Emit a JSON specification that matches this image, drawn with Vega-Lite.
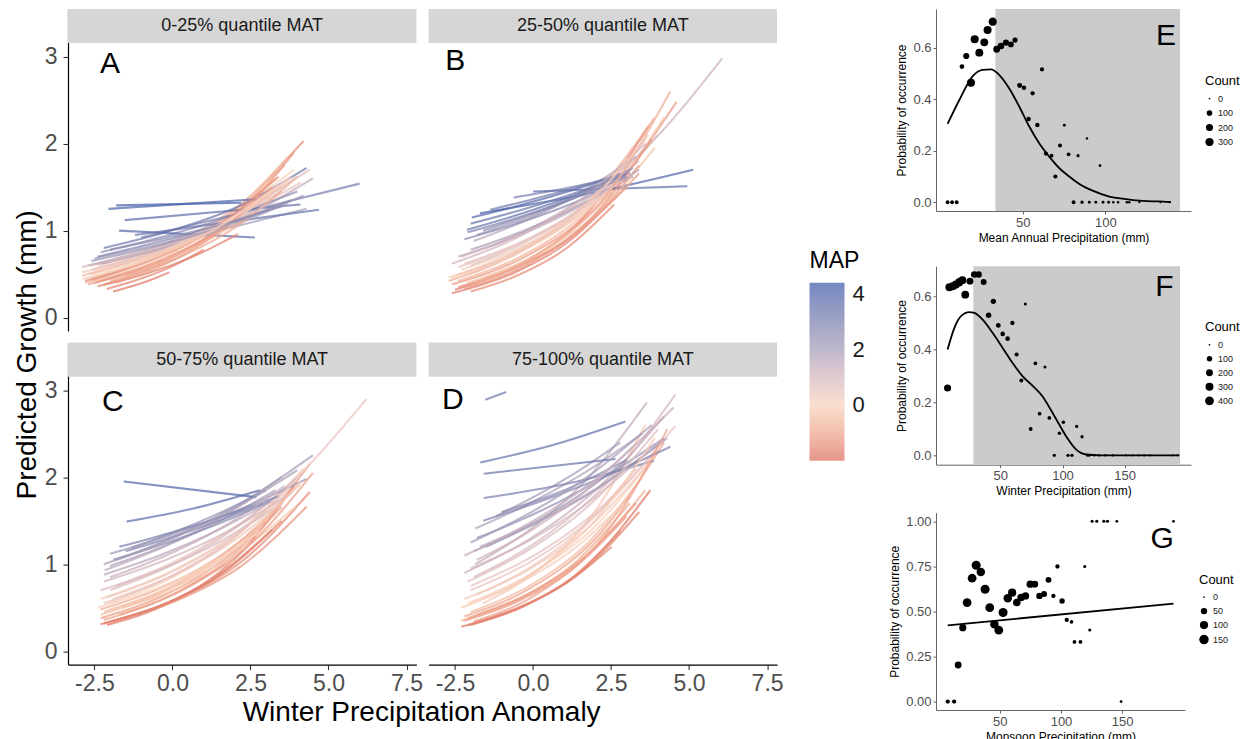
{
"$schema": "https://vega.github.io/schema/vega-lite/v6.json",
"padding": {"left": 14, "top": 9, "right": 2, "bottom": 2},
"config": {"view": {"stroke": null}, "font": "Liberation Sans", "axis": {"grid": false}},
"datasets": {
"panels": [
{"p":"A","lab":"0-25% quantile MAT","L":"A","lx":-2.0,"ly":2.91},
{"p":"B","lab":"25-50% quantile MAT","L":"B","lx":-2.49,"ly":2.95},
{"p":"C","lab":"50-75% quantile MAT","L":"C","lx":-1.91,"ly":2.87},
{"p":"D","lab":"75-100% quantile MAT","L":"D","lx":-2.57,"ly":2.89},
{"p":"A","g":"A1","m":-1.8,"x":-1.9,"y":0.30},{"p":"A","g":"A1","m":-1.8,"x":-1.3,"y":0.36},{"p":"A","g":"A1","m":-1.8,"x":-0.7,"y":0.433},{"p":"A","g":"A1","m":-1.8,"x":-0.1,"y":0.52},
{"p":"A","g":"A2","m":-1.5,"x":-2.8,"y":0.42},{"p":"A","g":"A2","m":-1.5,"x":-0.47,"y":0.71},{"p":"A","g":"A2","m":-1.5,"x":1.87,"y":1.20},{"p":"A","g":"A2","m":-1.5,"x":4.2,"y":2.03},
{"p":"A","g":"A3","m":-1.0,"x":-2.6,"y":0.45},{"p":"A","g":"A3","m":-1.0,"x":-0.53,"y":0.71},{"p":"A","g":"A3","m":-1.0,"x":1.53,"y":1.11},{"p":"A","g":"A3","m":-1.0,"x":3.6,"y":1.75},
{"p":"A","g":"A4","m":-0.5,"x":-2.9,"y":0.48},{"p":"A","g":"A4","m":-0.5,"x":-0.83,"y":0.717},{"p":"A","g":"A4","m":-0.5,"x":1.23,"y":1.071},{"p":"A","g":"A4","m":-0.5,"x":3.3,"y":1.6},
{"p":"A","g":"A5","m":0.0,"x":-2.5,"y":0.55},{"p":"A","g":"A5","m":0.0,"x":-0.37,"y":0.80},{"p":"A","g":"A5","m":0.0,"x":1.77,"y":1.167},{"p":"A","g":"A5","m":0.0,"x":3.9,"y":1.7},
{"p":"A","g":"A6","m":-1.2,"x":-2.2,"y":0.38},{"p":"A","g":"A6","m":-1.2,"x":-0.53,"y":0.594},{"p":"A","g":"A6","m":-1.2,"x":1.13,"y":0.928},{"p":"A","g":"A6","m":-1.2,"x":2.8,"y":1.45},
{"p":"A","g":"A7","m":0.3,"x":-2.7,"y":0.5},{"p":"A","g":"A7","m":0.3,"x":-0.63,"y":0.721},{"p":"A","g":"A7","m":0.3,"x":1.43,"y":1.04},{"p":"A","g":"A7","m":0.3,"x":3.5,"y":1.5},
{"p":"A","g":"A8","m":-0.8,"x":-1.5,"y":0.48},{"p":"A","g":"A8","m":-0.8,"x":0.0,"y":0.70},{"p":"A","g":"A8","m":-0.8,"x":1.5,"y":1.026},{"p":"A","g":"A8","m":-0.8,"x":3.0,"y":1.5},
{"p":"A","g":"A9","m":0.5,"x":-2.4,"y":0.6},{"p":"A","g":"A9","m":0.5,"x":-0.23,"y":0.824},{"p":"A","g":"A9","m":0.5,"x":1.93,"y":1.129},{"p":"A","g":"A9","m":0.5,"x":4.1,"y":1.55},
{"p":"A","g":"A10","m":-1.6,"x":-2.1,"y":0.33},{"p":"A","g":"A10","m":-1.6,"x":-1.07,"y":0.44},{"p":"A","g":"A10","m":-1.6,"x":-0.03,"y":0.586},{"p":"A","g":"A10","m":-1.6,"x":1.0,"y":0.78},
{"p":"A","g":"A11","m":0.8,"x":-2.6,"y":0.6},{"p":"A","g":"A11","m":0.8,"x":-0.27,"y":0.849},{"p":"A","g":"A11","m":0.8,"x":2.07,"y":1.201},{"p":"A","g":"A11","m":0.8,"x":4.4,"y":1.7},
{"p":"A","g":"A12","m":-0.3,"x":-2.0,"y":0.45},{"p":"A","g":"A12","m":-0.3,"x":-0.1,"y":0.721},{"p":"A","g":"A12","m":-0.3,"x":1.8,"y":1.155},{"p":"A","g":"A12","m":-0.3,"x":3.7,"y":1.85},
{"p":"A","g":"A13","m":1.5,"x":-2.7,"y":0.6},{"p":"A","g":"A13","m":1.5,"x":-0.3,"y":0.82},{"p":"A","g":"A13","m":1.5,"x":2.1,"y":1.12},{"p":"A","g":"A13","m":1.5,"x":4.5,"y":1.6},
{"p":"A","g":"A14","m":2.0,"x":-2.5,"y":0.68},{"p":"A","g":"A14","m":2.0,"x":-0.23,"y":0.86},{"p":"A","g":"A14","m":2.0,"x":2.03,"y":1.05},{"p":"A","g":"A14","m":2.0,"x":4.3,"y":1.25},
{"p":"A","g":"A15","m":2.5,"x":-2.3,"y":0.75},{"p":"A","g":"A15","m":2.5,"x":-0.2,"y":0.94},{"p":"A","g":"A15","m":2.5,"x":1.9,"y":1.17},{"p":"A","g":"A15","m":2.5,"x":4.0,"y":1.45},
{"p":"A","g":"A16","m":3.0,"x":-1.0,"y":0.92},{"p":"A","g":"A16","m":3.0,"x":6.0,"y":1.54},
{"p":"A","g":"A17","m":3.2,"x":-2.2,"y":0.8},{"p":"A","g":"A17","m":3.2,"x":-0.03,"y":1.0},{"p":"A","g":"A17","m":3.2,"x":2.13,"y":1.28},{"p":"A","g":"A17","m":3.2,"x":4.3,"y":1.72},
{"p":"A","g":"A18","m":3.6,"x":-1.53,"y":1.12},{"p":"A","g":"A18","m":3.6,"x":4.1,"y":1.30},
{"p":"A","g":"A19","m":3.8,"x":-1.71,"y":1.0},{"p":"A","g":"A19","m":3.8,"x":2.64,"y":0.92},
{"p":"A","g":"A20","m":4.0,"x":-2.05,"y":1.25},{"p":"A","g":"A20","m":4.0,"x":2.7,"y":1.36},
{"p":"A","g":"A21","m":4.2,"x":-1.8,"y":1.29},{"p":"A","g":"A21","m":4.2,"x":2.2,"y":1.32},
{"p":"A","g":"A22","m":2.8,"x":-2.4,"y":0.7},{"p":"A","g":"A22","m":2.8,"x":-0.33,"y":0.88},{"p":"A","g":"A22","m":2.8,"x":1.73,"y":1.08},{"p":"A","g":"A22","m":2.8,"x":3.8,"y":1.35},
{"p":"A","g":"A23","m":1.2,"x":-2.6,"y":0.55},{"p":"A","g":"A23","m":1.2,"x":-0.63,"y":0.75},{"p":"A","g":"A23","m":1.2,"x":1.33,"y":1.04},{"p":"A","g":"A23","m":1.2,"x":3.3,"y":1.5},
{"p":"A","g":"A24","m":3.4,"x":-1.2,"y":0.95},{"p":"A","g":"A24","m":3.4,"x":4.7,"y":1.24},
{"p":"A","g":"A25","m":-1.0,"x":-2.7,"y":0.38},{"p":"A","g":"A25","m":-1.0,"x":-0.8,"y":0.587},{"p":"A","g":"A25","m":-1.0,"x":1.1,"y":0.906},{"p":"A","g":"A25","m":-1.0,"x":3.0,"y":1.4},
{"p":"A","g":"A26","m":0.2,"x":-2.9,"y":0.52},{"p":"A","g":"A26","m":0.2,"x":-0.9,"y":0.72},{"p":"A","g":"A26","m":0.2,"x":1.1,"y":0.997},{"p":"A","g":"A26","m":0.2,"x":3.1,"y":1.38},
{"p":"A","g":"A27","m":-0.6,"x":-2.3,"y":0.42},{"p":"A","g":"A27","m":-0.6,"x":-0.6,"y":0.62},{"p":"A","g":"A27","m":-0.6,"x":1.1,"y":0.915},{"p":"A","g":"A27","m":-0.6,"x":2.8,"y":1.35},
{"p":"A","g":"A28","m":-1.3,"x":-2.5,"y":0.40},{"p":"A","g":"A28","m":-1.3,"x":-0.6,"y":0.622},{"p":"A","g":"A28","m":-1.3,"x":1.3,"y":0.966},{"p":"A","g":"A28","m":-1.3,"x":3.2,"y":1.5},
{"p":"A","g":"A29","m":0.6,"x":-2.2,"y":0.62},{"p":"A","g":"A29","m":0.6,"x":-0.3,"y":0.823},{"p":"A","g":"A29","m":0.6,"x":1.6,"y":1.092},{"p":"A","g":"A29","m":0.6,"x":3.5,"y":1.45},
{"p":"A","g":"A30","m":-0.2,"x":-2.8,"y":0.45},{"p":"A","g":"A30","m":-0.2,"x":-0.8,"y":0.66},{"p":"A","g":"A30","m":-0.2,"x":1.2,"y":0.968},{"p":"A","g":"A30","m":-0.2,"x":3.2,"y":1.42},
{"p":"A","g":"A31","m":1.8,"x":-2.3,"y":0.62},{"p":"A","g":"A31","m":1.8,"x":-0.3,"y":0.798},{"p":"A","g":"A31","m":1.8,"x":1.7,"y":1.027},{"p":"A","g":"A31","m":1.8,"x":3.7,"y":1.32},
{"p":"A","g":"A32","m":-1.7,"x":-2.4,"y":0.36},{"p":"A","g":"A32","m":-1.7,"x":-0.9,"y":0.499},{"p":"A","g":"A32","m":-1.7,"x":0.6,"y":0.692},{"p":"A","g":"A32","m":-1.7,"x":2.1,"y":0.96},
{"p":"A","g":"A33","m":-0.9,"x":-2.0,"y":0.42},{"p":"A","g":"A33","m":-0.9,"x":0.0,"y":0.659},{"p":"A","g":"A33","m":-0.9,"x":2.0,"y":1.033},{"p":"A","g":"A33","m":-0.9,"x":4.0,"y":1.62},
{"p":"A","g":"A34","m":1.0,"x":-2.9,"y":0.58},{"p":"A","g":"A34","m":1.0,"x":-0.9,"y":0.759},{"p":"A","g":"A34","m":1.0,"x":1.1,"y":0.994},{"p":"A","g":"A34","m":1.0,"x":3.1,"y":1.3},
{"p":"A","g":"A35","m":-0.4,"x":-2.6,"y":0.5},{"p":"A","g":"A35","m":-0.4,"x":-0.5,"y":0.734},{"p":"A","g":"A35","m":-0.4,"x":1.6,"y":1.076},{"p":"A","g":"A35","m":-0.4,"x":3.7,"y":1.58},
{"p":"A","g":"A36","m":-1.4,"x":-2.6,"y":0.43},{"p":"A","g":"A36","m":-1.4,"x":-0.6,"y":0.669},{"p":"A","g":"A36","m":-1.4,"x":1.4,"y":1.041},{"p":"A","g":"A36","m":-1.4,"x":3.4,"y":1.62},
{"p":"A","g":"A37","m":0.1,"x":-2.3,"y":0.53},{"p":"A","g":"A37","m":0.1,"x":-0.27,"y":0.769},{"p":"A","g":"A37","m":0.1,"x":1.77,"y":1.116},{"p":"A","g":"A37","m":0.1,"x":3.8,"y":1.62},
{"p":"A","g":"A38","m":-0.7,"x":-2.8,"y":0.40},{"p":"A","g":"A38","m":-0.7,"x":-1.0,"y":0.577},{"p":"A","g":"A38","m":-0.7,"x":0.8,"y":0.832},{"p":"A","g":"A38","m":-0.7,"x":2.6,"y":1.2},
{"p":"A","g":"A39","m":0.4,"x":-2.0,"y":0.58},{"p":"A","g":"A39","m":0.4,"x":0.0,"y":0.817},{"p":"A","g":"A39","m":0.4,"x":2.0,"y":1.15},{"p":"A","g":"A39","m":0.4,"x":4.0,"y":1.62},
{"p":"A","g":"A40","m":-1.1,"x":-1.8,"y":0.40},{"p":"A","g":"A40","m":-1.1,"x":0.1,"y":0.672},{"p":"A","g":"A40","m":-1.1,"x":2.0,"y":1.13},{"p":"A","g":"A40","m":-1.1,"x":3.9,"y":1.9},
{"p":"A","g":"A41","m":2.2,"x":-2.6,"y":0.65},{"p":"A","g":"A41","m":2.2,"x":-0.33,"y":0.839},{"p":"A","g":"A41","m":2.2,"x":1.93,"y":1.084},{"p":"A","g":"A41","m":2.2,"x":4.2,"y":1.4},
{"p":"A","g":"A42","m":2.6,"x":-2.0,"y":0.78},{"p":"A","g":"A42","m":2.6,"x":-0.17,"y":0.92},{"p":"A","g":"A42","m":2.6,"x":1.67,"y":1.08},{"p":"A","g":"A42","m":2.6,"x":3.5,"y":1.28},
{"p":"A","g":"A43","m":0.0,"x":-2.9,"y":0.44},{"p":"A","g":"A43","m":0.0,"x":-0.8,"y":0.665},{"p":"A","g":"A43","m":0.0,"x":1.3,"y":1.005},{"p":"A","g":"A43","m":0.0,"x":3.4,"y":1.52},
{"p":"B","g":"B1","m":-1.8,"x":-2.5,"y":0.32},{"p":"B","g":"B1","m":-1.8,"x":-0.43,"y":0.608},{"p":"B","g":"B1","m":-1.8,"x":1.63,"y":1.157},{"p":"B","g":"B1","m":-1.8,"x":3.7,"y":2.2},
{"p":"B","g":"B2","m":-1.2,"x":-2.6,"y":0.38},{"p":"B","g":"B2","m":-1.2,"x":-0.2,"y":0.71},{"p":"B","g":"B2","m":-1.2,"x":2.2,"y":1.326},{"p":"B","g":"B2","m":-1.2,"x":4.6,"y":2.48},
{"p":"B","g":"B3","m":-0.6,"x":-2.4,"y":0.42},{"p":"B","g":"B3","m":-0.6,"x":-0.43,"y":0.695},{"p":"B","g":"B3","m":-0.6,"x":1.53,"y":1.149},{"p":"B","g":"B3","m":-0.6,"x":3.5,"y":1.9},
{"p":"B","g":"B4","m":0.0,"x":-2.2,"y":0.5},{"p":"B","g":"B4","m":0.0,"x":-0.13,"y":0.807},{"p":"B","g":"B4","m":0.0,"x":1.93,"y":1.301},{"p":"B","g":"B4","m":0.0,"x":4.0,"y":2.1},
{"p":"B","g":"B5","m":-1.5,"x":-2.0,"y":0.3},{"p":"B","g":"B5","m":-1.5,"x":-0.47,"y":0.489},{"p":"B","g":"B5","m":-1.5,"x":1.07,"y":0.797},{"p":"B","g":"B5","m":-1.5,"x":2.6,"y":1.3},
{"p":"B","g":"B6","m":0.4,"x":-2.5,"y":0.48},{"p":"B","g":"B6","m":0.4,"x":-0.6,"y":0.739},{"p":"B","g":"B6","m":0.4,"x":1.3,"y":1.137},{"p":"B","g":"B6","m":0.4,"x":3.2,"y":1.75},
{"p":"B","g":"B7","m":-0.9,"x":-2.7,"y":0.42},{"p":"B","g":"B7","m":-0.9,"x":-0.5,"y":0.74},{"p":"B","g":"B7","m":-0.9,"x":1.7,"y":1.305},{"p":"B","g":"B7","m":-0.9,"x":3.9,"y":2.3},
{"p":"B","g":"B8","m":0.8,"x":-2.0,"y":0.6},{"p":"B","g":"B8","m":0.8,"x":-0.2,"y":0.873},{"p":"B","g":"B8","m":0.8,"x":1.6,"y":1.271},{"p":"B","g":"B8","m":0.8,"x":3.4,"y":1.85},
{"p":"B","g":"B9","m":-0.3,"x":-1.6,"y":0.45},{"p":"B","g":"B9","m":-0.3,"x":0.33,"y":0.775},{"p":"B","g":"B9","m":-0.3,"x":2.27,"y":1.336},{"p":"B","g":"B9","m":-0.3,"x":4.2,"y":2.3},
{"p":"B","g":"B10","m":0.2,"x":-2.3,"y":0.55},{"p":"B","g":"B10","m":0.2,"x":-0.53,"y":0.785},{"p":"B","g":"B10","m":0.2,"x":1.23,"y":1.121},{"p":"B","g":"B10","m":0.2,"x":3.0,"y":1.6},
{"p":"B","g":"B11","m":1.6,"x":-1.9,"y":0.88},{"p":"B","g":"B11","m":1.6,"x":-0.17,"y":1.127},{"p":"B","g":"B11","m":1.6,"x":1.57,"y":1.444},{"p":"B","g":"B11","m":1.6,"x":3.3,"y":1.85},
{"p":"B","g":"B12","m":1.2,"x":-1.5,"y":0.8},{"p":"B","g":"B12","m":1.2,"x":1.02,"y":1.24},{"p":"B","g":"B12","m":1.2,"x":3.54,"y":1.922},{"p":"B","g":"B12","m":1.2,"x":6.06,"y":2.98},
{"p":"B","g":"B13","m":2.2,"x":-1.8,"y":0.95},{"p":"B","g":"B13","m":2.2,"x":-0.17,"y":1.153},{"p":"B","g":"B13","m":2.2,"x":1.47,"y":1.4},{"p":"B","g":"B13","m":2.2,"x":3.1,"y":1.7},
{"p":"B","g":"B14","m":3.5,"x":-2.12,"y":1.01},{"p":"B","g":"B14","m":3.5,"x":-0.41,"y":1.19},{"p":"B","g":"B14","m":3.5,"x":1.29,"y":1.4},{"p":"B","g":"B14","m":3.5,"x":3.0,"y":1.65},
{"p":"B","g":"B15","m":3.8,"x":-1.96,"y":1.15},{"p":"B","g":"B15","m":3.8,"x":-0.27,"y":1.305},{"p":"B","g":"B15","m":3.8,"x":1.41,"y":1.481},{"p":"B","g":"B15","m":3.8,"x":3.1,"y":1.68},
{"p":"B","g":"B16","m":3.2,"x":-1.37,"y":1.24},{"p":"B","g":"B16","m":3.2,"x":0.05,"y":1.366},{"p":"B","g":"B16","m":3.2,"x":1.48,"y":1.507},{"p":"B","g":"B16","m":3.2,"x":2.9,"y":1.66},
{"p":"B","g":"B17","m":3.0,"x":-0.62,"y":1.38},{"p":"B","g":"B17","m":3.0,"x":1.09,"y":1.49},{"p":"B","g":"B17","m":3.0,"x":2.8,"y":1.62},
{"p":"B","g":"B18","m":4.0,"x":-1.7,"y":1.2},{"p":"B","g":"B18","m":4.0,"x":1.72,"y":1.42},{"p":"B","g":"B18","m":4.0,"x":5.13,"y":1.7},
{"p":"B","g":"B19","m":3.6,"x":0.0,"y":1.45},{"p":"B","g":"B19","m":3.6,"x":4.94,"y":1.51},
{"p":"B","g":"B20","m":2.6,"x":-2.2,"y":0.9},{"p":"B","g":"B20","m":2.6,"x":-0.4,"y":1.095},{"p":"B","g":"B20","m":2.6,"x":1.4,"y":1.332},{"p":"B","g":"B20","m":2.6,"x":3.2,"y":1.62},
{"p":"B","g":"B21","m":-1.4,"x":-2.4,"y":0.35},{"p":"B","g":"B21","m":-1.4,"x":-0.6,"y":0.568},{"p":"B","g":"B21","m":-1.4,"x":1.2,"y":0.923},{"p":"B","g":"B21","m":-1.4,"x":3.0,"y":1.5},
{"p":"B","g":"B22","m":1.0,"x":-2.3,"y":0.7},{"p":"B","g":"B22","m":1.0,"x":-0.4,"y":0.959},{"p":"B","g":"B22","m":1.0,"x":1.5,"y":1.313},{"p":"B","g":"B22","m":1.0,"x":3.4,"y":1.8},
{"p":"B","g":"B23","m":-1.7,"x":-2.6,"y":0.28},{"p":"B","g":"B23","m":-1.7,"x":-0.6,"y":0.516},{"p":"B","g":"B23","m":-1.7,"x":1.4,"y":0.95},{"p":"B","g":"B23","m":-1.7,"x":3.4,"y":1.75},
{"p":"B","g":"B24","m":0.6,"x":-2.4,"y":0.58},{"p":"B","g":"B24","m":0.6,"x":-0.5,"y":0.843},{"p":"B","g":"B24","m":0.6,"x":1.4,"y":1.225},{"p":"B","g":"B24","m":0.6,"x":3.3,"y":1.78},
{"p":"B","g":"B25","m":1.9,"x":-2.0,"y":0.78},{"p":"B","g":"B25","m":1.9,"x":-0.2,"y":1.012},{"p":"B","g":"B25","m":1.9,"x":1.6,"y":1.311},{"p":"B","g":"B25","m":1.9,"x":3.4,"y":1.7},
{"p":"B","g":"B26","m":-0.4,"x":-2.1,"y":0.4},{"p":"B","g":"B26","m":-0.4,"x":-0.1,"y":0.678},{"p":"B","g":"B26","m":-0.4,"x":1.9,"y":1.15},{"p":"B","g":"B26","m":-0.4,"x":3.9,"y":1.95},
{"p":"B","g":"B27","m":-1.0,"x":-2.3,"y":0.36},{"p":"B","g":"B27","m":-1.0,"x":-0.4,"y":0.599},{"p":"B","g":"B27","m":-1.0,"x":1.5,"y":0.998},{"p":"B","g":"B27","m":-1.0,"x":3.4,"y":1.66},
{"p":"B","g":"B28","m":0.0,"x":-2.6,"y":0.45},{"p":"B","g":"B28","m":0.0,"x":-0.6,"y":0.721},{"p":"B","g":"B28","m":0.0,"x":1.4,"y":1.155},{"p":"B","g":"B28","m":0.0,"x":3.4,"y":1.85},
{"p":"B","g":"B29","m":1.4,"x":-2.4,"y":0.7},{"p":"B","g":"B29","m":1.4,"x":-0.5,"y":0.937},{"p":"B","g":"B29","m":1.4,"x":1.4,"y":1.255},{"p":"B","g":"B29","m":1.4,"x":3.3,"y":1.68},
{"p":"B","g":"B30","m":3.3,"x":-2.0,"y":1.08},{"p":"B","g":"B30","m":3.3,"x":-0.3,"y":1.246},{"p":"B","g":"B30","m":3.3,"x":1.4,"y":1.438},{"p":"B","g":"B30","m":3.3,"x":3.1,"y":1.66},
{"p":"B","g":"B31","m":-1.3,"x":-2.2,"y":0.33},{"p":"B","g":"B31","m":-1.3,"x":-0.2,"y":0.607},{"p":"B","g":"B31","m":-1.3,"x":1.8,"y":1.115},{"p":"B","g":"B31","m":-1.3,"x":3.8,"y":2.05},
{"p":"B","g":"B32","m":-0.2,"x":-2.7,"y":0.46},{"p":"B","g":"B32","m":-0.2,"x":-0.6,"y":0.757},{"p":"B","g":"B32","m":-0.2,"x":1.5,"y":1.246},{"p":"B","g":"B32","m":-0.2,"x":3.6,"y":2.05},
{"p":"B","g":"B33","m":0.5,"x":-2.2,"y":0.62},{"p":"B","g":"B33","m":0.5,"x":-0.43,"y":0.859},{"p":"B","g":"B33","m":0.5,"x":1.33,"y":1.191},{"p":"B","g":"B33","m":0.5,"x":3.1,"y":1.65},
{"p":"B","g":"B34","m":1.1,"x":-2.6,"y":0.62},{"p":"B","g":"B34","m":1.1,"x":-0.53,"y":0.916},{"p":"B","g":"B34","m":1.1,"x":1.53,"y":1.353},{"p":"B","g":"B34","m":1.1,"x":3.6,"y":2.0},
{"p":"B","g":"B35","m":2.4,"x":-1.6,"y":1.0},{"p":"B","g":"B35","m":2.4,"x":0.0,"y":1.198},{"p":"B","g":"B35","m":2.4,"x":1.6,"y":1.436},{"p":"B","g":"B35","m":2.4,"x":3.2,"y":1.72},
{"p":"B","g":"B36","m":2.9,"x":-2.1,"y":0.98},{"p":"B","g":"B36","m":2.9,"x":-0.4,"y":1.158},{"p":"B","g":"B36","m":2.9,"x":1.3,"y":1.37},{"p":"B","g":"B36","m":2.9,"x":3.0,"y":1.62},
{"p":"B","g":"B37","m":-0.8,"x":-2.0,"y":0.38},{"p":"B","g":"B37","m":-0.8,"x":0.13,"y":0.721},{"p":"B","g":"B37","m":-0.8,"x":2.27,"y":1.37},{"p":"B","g":"B37","m":-0.8,"x":4.4,"y":2.6},
{"p":"B","g":"B38","m":0.3,"x":-1.8,"y":0.55},{"p":"B","g":"B38","m":0.3,"x":0.03,"y":0.86},{"p":"B","g":"B38","m":0.3,"x":1.87,"y":1.344},{"p":"B","g":"B38","m":0.3,"x":3.7,"y":2.1},
{"p":"C","g":"C1","m":-1.8,"x":-2.1,"y":0.3},{"p":"C","g":"C1","m":-1.8,"x":-0.1,"y":0.555},{"p":"C","g":"C1","m":-1.8,"x":1.9,"y":1.027},{"p":"C","g":"C1","m":-1.8,"x":3.9,"y":1.9},
{"p":"C","g":"C2","m":-1.2,"x":-2.3,"y":0.38},{"p":"C","g":"C2","m":-1.2,"x":-0.07,"y":0.677},{"p":"C","g":"C2","m":-1.2,"x":2.17,"y":1.207},{"p":"C","g":"C2","m":-1.2,"x":4.4,"y":2.15},
{"p":"C","g":"C3","m":-0.6,"x":-2.2,"y":0.45},{"p":"C","g":"C3","m":-0.6,"x":-0.27,"y":0.708},{"p":"C","g":"C3","m":-0.6,"x":1.67,"y":1.113},{"p":"C","g":"C3","m":-0.6,"x":3.6,"y":1.75},
{"p":"C","g":"C4","m":0.0,"x":-2.0,"y":0.55},{"p":"C","g":"C4","m":0.0,"x":0.07,"y":0.86},{"p":"C","g":"C4","m":0.0,"x":2.13,"y":1.344},{"p":"C","g":"C4","m":0.0,"x":4.2,"y":2.1},
{"p":"C","g":"C5","m":-1.5,"x":-1.9,"y":0.35},{"p":"C","g":"C5","m":-1.5,"x":0.2,"y":0.608},{"p":"C","g":"C5","m":-1.5,"x":2.3,"y":1.054},{"p":"C","g":"C5","m":-1.5,"x":4.4,"y":1.83},
{"p":"C","g":"C6","m":0.4,"x":-2.1,"y":0.62},{"p":"C","g":"C6","m":0.4,"x":-0.27,"y":0.871},{"p":"C","g":"C6","m":0.4,"x":1.57,"y":1.224},{"p":"C","g":"C6","m":0.4,"x":3.4,"y":1.72},
{"p":"C","g":"C7","m":0.5,"x":-1.8,"y":0.75},{"p":"C","g":"C7","m":0.5,"x":0.87,"y":1.178},{"p":"C","g":"C7","m":0.5,"x":3.55,"y":1.849},{"p":"C","g":"C7","m":0.5,"x":6.22,"y":2.9},
{"p":"C","g":"C8","m":-0.9,"x":-2.3,"y":0.48},{"p":"C","g":"C8","m":-0.9,"x":-0.53,"y":0.702},{"p":"C","g":"C8","m":-0.9,"x":1.23,"y":1.026},{"p":"C","g":"C8","m":-0.9,"x":3.0,"y":1.5},
{"p":"C","g":"C9","m":0.8,"x":-2.0,"y":0.7},{"p":"C","g":"C9","m":0.8,"x":0.0,"y":0.993},{"p":"C","g":"C9","m":0.8,"x":2.0,"y":1.41},{"p":"C","g":"C9","m":0.8,"x":4.0,"y":2.0},
{"p":"C","g":"C10","m":-0.3,"x":-1.6,"y":0.5},{"p":"C","g":"C10","m":-0.3,"x":-0.4,"y":0.64},{"p":"C","g":"C10","m":-0.3,"x":0.8,"y":0.82},{"p":"C","g":"C10","m":-0.3,"x":2.0,"y":1.05},
{"p":"C","g":"C11","m":1.5,"x":-2.17,"y":0.93},{"p":"C","g":"C11","m":1.5,"x":-0.28,"y":1.2},{"p":"C","g":"C11","m":1.5,"x":1.61,"y":1.549},{"p":"C","g":"C11","m":1.5,"x":3.5,"y":2.0},
{"p":"C","g":"C12","m":2.0,"x":-1.8,"y":1.05},{"p":"C","g":"C12","m":2.0,"x":0.3,"y":1.353},{"p":"C","g":"C12","m":2.0,"x":2.4,"y":1.745},{"p":"C","g":"C12","m":2.0,"x":4.5,"y":2.25},
{"p":"C","g":"C13","m":2.4,"x":-1.3,"y":1.19},{"p":"C","g":"C13","m":2.4,"x":0.13,"y":1.379},{"p":"C","g":"C13","m":2.4,"x":1.57,"y":1.598},{"p":"C","g":"C13","m":2.4,"x":3.0,"y":1.85},
{"p":"C","g":"C14","m":1.8,"x":-2.0,"y":0.98},{"p":"C","g":"C14","m":1.8,"x":-0.23,"y":1.211},{"p":"C","g":"C14","m":1.8,"x":1.53,"y":1.496},{"p":"C","g":"C14","m":1.8,"x":3.3,"y":1.85},
{"p":"C","g":"C15","m":2.8,"x":-1.5,"y":1.15},{"p":"C","g":"C15","m":2.8,"x":-0.03,"y":1.31},{"p":"C","g":"C15","m":2.8,"x":1.43,"y":1.493},{"p":"C","g":"C15","m":2.8,"x":2.9,"y":1.7},
{"p":"C","g":"C16","m":4.0,"x":-1.56,"y":1.95},{"p":"C","g":"C16","m":4.0,"x":2.69,"y":1.77},
{"p":"C","g":"C17","m":3.7,"x":-1.47,"y":1.49},{"p":"C","g":"C17","m":3.7,"x":0.67,"y":1.64},{"p":"C","g":"C17","m":3.7,"x":2.8,"y":1.85},
{"p":"C","g":"C18","m":-1.0,"x":-2.2,"y":0.36},{"p":"C","g":"C18","m":-1.0,"x":-0.3,"y":0.599},{"p":"C","g":"C18","m":-1.0,"x":1.6,"y":0.998},{"p":"C","g":"C18","m":-1.0,"x":3.5,"y":1.66},
{"p":"C","g":"C19","m":1.1,"x":-2.2,"y":0.8},{"p":"C","g":"C19","m":1.1,"x":-0.2,"y":1.052},{"p":"C","g":"C19","m":1.1,"x":1.8,"y":1.383},{"p":"C","g":"C19","m":1.1,"x":3.8,"y":1.82},
{"p":"C","g":"C20","m":0.2,"x":-2.3,"y":0.6},{"p":"C","g":"C20","m":0.2,"x":-0.3,"y":0.873},{"p":"C","g":"C20","m":0.2,"x":1.7,"y":1.271},{"p":"C","g":"C20","m":0.2,"x":3.7,"y":1.85},
{"p":"C","g":"C21","m":-1.6,"x":-2.2,"y":0.32},{"p":"C","g":"C21","m":-1.6,"x":-0.3,"y":0.535},{"p":"C","g":"C21","m":-1.6,"x":1.6,"y":0.896},{"p":"C","g":"C21","m":-1.6,"x":3.5,"y":1.5},
{"p":"C","g":"C22","m":2.2,"x":-2.0,"y":1.12},{"p":"C","g":"C22","m":2.2,"x":0.1,"y":1.354},{"p":"C","g":"C22","m":2.2,"x":2.2,"y":1.637},{"p":"C","g":"C22","m":2.2,"x":4.3,"y":1.98},
{"p":"C","g":"C23","m":0.9,"x":-2.3,"y":0.7},{"p":"C","g":"C23","m":0.9,"x":-0.4,"y":0.937},{"p":"C","g":"C23","m":0.9,"x":1.5,"y":1.255},{"p":"C","g":"C23","m":0.9,"x":3.4,"y":1.68},
{"p":"C","g":"C24","m":-0.2,"x":-2.0,"y":0.48},{"p":"C","g":"C24","m":-0.2,"x":0.0,"y":0.729},{"p":"C","g":"C24","m":-0.2,"x":2.0,"y":1.106},{"p":"C","g":"C24","m":-0.2,"x":4.0,"y":1.68},
{"p":"C","g":"C25","m":-1.3,"x":-2.0,"y":0.34},{"p":"C","g":"C25","m":-1.3,"x":0.1,"y":0.577},{"p":"C","g":"C25","m":-1.3,"x":2.2,"y":0.978},{"p":"C","g":"C25","m":-1.3,"x":4.3,"y":1.66},
{"p":"C","g":"C26","m":0.3,"x":-1.9,"y":0.6},{"p":"C","g":"C26","m":0.3,"x":0.1,"y":0.884},{"p":"C","g":"C26","m":0.3,"x":2.1,"y":1.303},{"p":"C","g":"C26","m":0.3,"x":4.1,"y":1.92},
{"p":"C","g":"C27","m":1.6,"x":-2.2,"y":0.88},{"p":"C","g":"C27","m":1.6,"x":-0.4,"y":1.103},{"p":"C","g":"C27","m":1.6,"x":1.4,"y":1.382},{"p":"C","g":"C27","m":1.6,"x":3.2,"y":1.73},
{"p":"C","g":"C28","m":3.0,"x":-1.7,"y":1.2},{"p":"C","g":"C28","m":3.0,"x":0.0,"y":1.368},{"p":"C","g":"C28","m":3.0,"x":1.7,"y":1.56},{"p":"C","g":"C28","m":3.0,"x":3.4,"y":1.78},
{"p":"C","g":"C29","m":-1.7,"x":-2.3,"y":0.31},{"p":"C","g":"C29","m":-1.7,"x":-0.47,"y":0.512},{"p":"C","g":"C29","m":-1.7,"x":1.37,"y":0.847},{"p":"C","g":"C29","m":-1.7,"x":3.2,"y":1.4},
{"p":"C","g":"C30","m":-0.4,"x":-2.3,"y":0.42},{"p":"C","g":"C30","m":-0.4,"x":-0.17,"y":0.701},{"p":"C","g":"C30","m":-0.4,"x":1.97,"y":1.168},{"p":"C","g":"C30","m":-0.4,"x":4.1,"y":1.95},
{"p":"C","g":"C31","m":0.6,"x":-2.2,"y":0.55},{"p":"C","g":"C31","m":0.6,"x":-0.17,"y":0.839},{"p":"C","g":"C31","m":0.6,"x":1.87,"y":1.279},{"p":"C","g":"C31","m":0.6,"x":3.9,"y":1.95},
{"p":"C","g":"C32","m":1.3,"x":-2.0,"y":0.85},{"p":"C","g":"C32","m":1.3,"x":-0.13,"y":1.111},{"p":"C","g":"C32","m":1.3,"x":1.73,"y":1.453},{"p":"C","g":"C32","m":1.3,"x":3.6,"y":1.9},
{"p":"C","g":"C33","m":2.6,"x":-1.9,"y":1.05},{"p":"C","g":"C33","m":2.6,"x":-0.23,"y":1.238},{"p":"C","g":"C33","m":2.6,"x":1.43,"y":1.459},{"p":"C","g":"C33","m":2.6,"x":3.1,"y":1.72},
{"p":"C","g":"C34","m":1.9,"x":-2.2,"y":1.0},{"p":"C","g":"C34","m":1.9,"x":-0.13,"y":1.276},{"p":"C","g":"C34","m":1.9,"x":1.93,"y":1.629},{"p":"C","g":"C34","m":1.9,"x":4.0,"y":2.08},
{"p":"C","g":"C35","m":-1.1,"x":-1.7,"y":0.42},{"p":"C","g":"C35","m":-1.1,"x":0.37,"y":0.712},{"p":"C","g":"C35","m":-1.1,"x":2.43,"y":1.208},{"p":"C","g":"C35","m":-1.1,"x":4.5,"y":2.05},
{"p":"C","g":"C36","m":0.0,"x":-2.4,"y":0.5},{"p":"C","g":"C36","m":0.0,"x":-0.6,"y":0.708},{"p":"C","g":"C36","m":0.0,"x":1.2,"y":1.003},{"p":"C","g":"C36","m":0.0,"x":3.0,"y":1.42},
{"p":"D","g":"D1","m":-1.8,"x":-2.3,"y":0.28},{"p":"D","g":"D1","m":-1.8,"x":-0.28,"y":0.526},{"p":"D","g":"D1","m":-1.8,"x":1.74,"y":0.986},{"p":"D","g":"D1","m":-1.8,"x":3.76,"y":1.85},
{"p":"D","g":"D2","m":-1.4,"x":-1.9,"y":0.33},{"p":"D","g":"D2","m":-1.4,"x":-0.42,"y":0.507},{"p":"D","g":"D2","m":-1.4,"x":1.05,"y":0.78},{"p":"D","g":"D2","m":-1.4,"x":2.53,"y":1.2},
{"p":"D","g":"D3","m":-1.0,"x":-2.2,"y":0.4},{"p":"D","g":"D3","m":-1.0,"x":-0.07,"y":0.727},{"p":"D","g":"D3","m":-1.0,"x":2.07,"y":1.321},{"p":"D","g":"D3","m":-1.0,"x":4.2,"y":2.4},
{"p":"D","g":"D4","m":-0.5,"x":-2.0,"y":0.45},{"p":"D","g":"D4","m":-0.5,"x":-0.17,"y":0.74},{"p":"D","g":"D4","m":-0.5,"x":1.67,"y":1.216},{"p":"D","g":"D4","m":-0.5,"x":3.5,"y":2.0},
{"p":"D","g":"D5","m":0.0,"x":-2.1,"y":0.55},{"p":"D","g":"D5","m":0.0,"x":-0.07,"y":0.886},{"p":"D","g":"D5","m":0.0,"x":1.97,"y":1.427},{"p":"D","g":"D5","m":0.0,"x":4.0,"y":2.3},
{"p":"D","g":"D6","m":0.3,"x":-1.8,"y":0.65},{"p":"D","g":"D6","m":0.3,"x":-0.1,"y":0.961},{"p":"D","g":"D6","m":0.3,"x":1.6,"y":1.42},{"p":"D","g":"D6","m":0.3,"x":3.3,"y":2.1},
{"p":"D","g":"D7","m":-1.2,"x":-2.2,"y":0.35},{"p":"D","g":"D7","m":-1.2,"x":-0.47,"y":0.575},{"p":"D","g":"D7","m":-1.2,"x":1.27,"y":0.944},{"p":"D","g":"D7","m":-1.2,"x":3.0,"y":1.55},
{"p":"D","g":"D8","m":0.6,"x":-2.0,"y":0.75},{"p":"D","g":"D8","m":0.6,"x":0.19,"y":1.133},{"p":"D","g":"D8","m":0.6,"x":2.37,"y":1.714},{"p":"D","g":"D8","m":0.6,"x":4.56,"y":2.59},
{"p":"D","g":"D9","m":-0.3,"x":-1.6,"y":0.55},{"p":"D","g":"D9","m":-0.3,"x":0.13,"y":0.924},{"p":"D","g":"D9","m":-0.3,"x":1.87,"y":1.55},{"p":"D","g":"D9","m":-0.3,"x":3.6,"y":2.6},
{"p":"D","g":"D10","m":0.9,"x":-1.9,"y":0.85},{"p":"D","g":"D10","m":0.9,"x":0.25,"y":1.287},{"p":"D","g":"D10","m":0.9,"x":2.41,"y":1.948},{"p":"D","g":"D10","m":0.9,"x":4.56,"y":2.95},
{"p":"D","g":"D11","m":1.5,"x":-1.85,"y":1.0},{"p":"D","g":"D11","m":1.5,"x":-0.02,"y":1.419},{"p":"D","g":"D11","m":1.5,"x":1.82,"y":2.015},{"p":"D","g":"D11","m":1.5,"x":3.65,"y":2.86},
{"p":"D","g":"D12","m":1.8,"x":-1.85,"y":1.41},{"p":"D","g":"D12","m":1.8,"x":-0.07,"y":1.706},{"p":"D","g":"D12","m":1.8,"x":1.72,"y":2.066},{"p":"D","g":"D12","m":1.8,"x":3.5,"y":2.5},
{"p":"D","g":"D13","m":2.2,"x":-1.5,"y":1.2},{"p":"D","g":"D13","m":2.2,"x":0.0,"y":1.469},{"p":"D","g":"D13","m":2.2,"x":1.5,"y":1.797},{"p":"D","g":"D13","m":2.2,"x":3.0,"y":2.2},
{"p":"D","g":"D14","m":2.0,"x":-1.2,"y":1.55},{"p":"D","g":"D14","m":2.0,"x":0.13,"y":1.793},{"p":"D","g":"D14","m":2.0,"x":1.47,"y":2.075},{"p":"D","g":"D14","m":2.0,"x":2.8,"y":2.4},
{"p":"D","g":"D15","m":1.3,"x":-2.2,"y":0.9},{"p":"D","g":"D15","m":1.3,"x":-0.07,"y":1.298},{"p":"D","g":"D15","m":1.3,"x":2.07,"y":1.872},{"p":"D","g":"D15","m":1.3,"x":4.2,"y":2.7},
{"p":"D","g":"D16","m":3.2,"x":-1.53,"y":2.89},{"p":"D","g":"D16","m":3.2,"x":-0.86,"y":2.98},
{"p":"D","g":"D17","m":3.5,"x":-1.69,"y":2.17},{"p":"D","g":"D17","m":3.5,"x":0.64,"y":2.37},{"p":"D","g":"D17","m":3.5,"x":2.96,"y":2.64},
{"p":"D","g":"D18","m":3.4,"x":-1.58,"y":2.04},{"p":"D","g":"D18","m":3.4,"x":2.64,"y":2.21},
{"p":"D","g":"D19","m":3.0,"x":-1.58,"y":1.76},{"p":"D","g":"D19","m":3.0,"x":1.15,"y":1.93},{"p":"D","g":"D19","m":3.0,"x":3.87,"y":2.19},
{"p":"D","g":"D20","m":2.6,"x":-1.0,"y":1.6},{"p":"D","g":"D20","m":2.6,"x":1.0,"y":1.85},{"p":"D","g":"D20","m":2.6,"x":3.0,"y":2.2},
{"p":"D","g":"D21","m":-0.8,"x":-2.3,"y":0.35},{"p":"D","g":"D21","m":-0.8,"x":-0.5,"y":0.593},{"p":"D","g":"D21","m":-0.8,"x":1.3,"y":1.004},{"p":"D","g":"D21","m":-0.8,"x":3.1,"y":1.7},
{"p":"D","g":"D22","m":1.0,"x":-2.0,"y":0.95},{"p":"D","g":"D22","m":1.0,"x":-0.2,"y":1.257},{"p":"D","g":"D22","m":1.0,"x":1.6,"y":1.663},{"p":"D","g":"D22","m":1.0,"x":3.4,"y":2.2},
{"p":"D","g":"D23","m":1.6,"x":-1.7,"y":1.2},{"p":"D","g":"D23","m":1.6,"x":0.3,"y":1.523},{"p":"D","g":"D23","m":1.6,"x":2.3,"y":1.932},{"p":"D","g":"D23","m":1.6,"x":4.3,"y":2.45},
{"p":"D","g":"D24","m":-1.5,"x":-2.0,"y":0.3},{"p":"D","g":"D24","m":-1.5,"x":-0.4,"y":0.499},{"p":"D","g":"D24","m":-1.5,"x":1.2,"y":0.83},{"p":"D","g":"D24","m":-1.5,"x":2.8,"y":1.38},
{"p":"D","g":"D25","m":2.4,"x":-1.8,"y":1.3},{"p":"D","g":"D25","m":2.4,"x":0.2,"y":1.605},{"p":"D","g":"D25","m":2.4,"x":2.2,"y":1.984},{"p":"D","g":"D25","m":2.4,"x":4.2,"y":2.45},
{"p":"D","g":"D26","m":0.2,"x":-2.2,"y":0.6},{"p":"D","g":"D26","m":0.2,"x":-0.2,"y":0.925},{"p":"D","g":"D26","m":0.2,"x":1.8,"y":1.427},{"p":"D","g":"D26","m":0.2,"x":3.8,"y":2.2},
{"p":"D","g":"D27","m":-0.7,"x":-1.8,"y":0.42},{"p":"D","g":"D27","m":-0.7,"x":0.0,"y":0.688},{"p":"D","g":"D27","m":-0.7,"x":1.8,"y":1.128},{"p":"D","g":"D27","m":-0.7,"x":3.6,"y":1.85},
{"p":"D","g":"D28","m":-1.1,"x":-2.1,"y":0.38},{"p":"D","g":"D28","m":-1.1,"x":-0.3,"y":0.626},{"p":"D","g":"D28","m":-1.1,"x":1.5,"y":1.032},{"p":"D","g":"D28","m":-1.1,"x":3.3,"y":1.7},
{"p":"D","g":"D29","m":0.5,"x":-2.0,"y":0.7},{"p":"D","g":"D29","m":0.5,"x":0.0,"y":1.045},{"p":"D","g":"D29","m":0.5,"x":2.0,"y":1.56},{"p":"D","g":"D29","m":0.5,"x":4.0,"y":2.33},
{"p":"D","g":"D30","m":1.9,"x":-1.9,"y":1.15},{"p":"D","g":"D30","m":1.9,"x":0.1,"y":1.47},{"p":"D","g":"D30","m":1.9,"x":2.1,"y":1.878},{"p":"D","g":"D30","m":1.9,"x":4.1,"y":2.4},
{"p":"D","g":"D31","m":2.8,"x":-1.6,"y":1.5},{"p":"D","g":"D31","m":2.8,"x":0.4,"y":1.743},{"p":"D","g":"D31","m":2.8,"x":2.4,"y":2.024},{"p":"D","g":"D31","m":2.8,"x":4.4,"y":2.35},
{"p":"D","g":"D32","m":-1.6,"x":-2.1,"y":0.3},{"p":"D","g":"D32","m":-1.6,"x":-0.27,"y":0.524},{"p":"D","g":"D32","m":-1.6,"x":1.57,"y":0.916},{"p":"D","g":"D32","m":-1.6,"x":3.4,"y":1.6},
{"p":"D","g":"D33","m":-0.2,"x":-2.3,"y":0.5},{"p":"D","g":"D33","m":-0.2,"x":-0.23,"y":0.85},{"p":"D","g":"D33","m":-0.2,"x":1.83,"y":1.443},{"p":"D","g":"D33","m":-0.2,"x":3.9,"y":2.45},
{"p":"D","g":"D34","m":0.8,"x":-2.1,"y":0.8},{"p":"D","g":"D34","m":0.8,"x":-0.07,"y":1.178},{"p":"D","g":"D34","m":0.8,"x":1.97,"y":1.734},{"p":"D","g":"D34","m":0.8,"x":4.0,"y":2.55},
{"p":"D","g":"D35","m":1.2,"x":-1.8,"y":1.05},{"p":"D","g":"D35","m":1.2,"x":-0.13,"y":1.373},{"p":"D","g":"D35","m":1.2,"x":1.53,"y":1.796},{"p":"D","g":"D35","m":1.2,"x":3.2,"y":2.35},
{"p":"D","g":"D36","m":2.0,"x":-2.0,"y":1.25},{"p":"D","g":"D36","m":2.0,"x":-0.07,"y":1.595},{"p":"D","g":"D36","m":2.0,"x":1.87,"y":2.036},{"p":"D","g":"D36","m":2.0,"x":3.8,"y":2.6},
{"p":"D","g":"D37","m":1.4,"x":-2.2,"y":1.1},{"p":"D","g":"D37","m":1.4,"x":0.03,"y":1.502},{"p":"D","g":"D37","m":1.4,"x":2.27,"y":2.05},{"p":"D","g":"D37","m":1.4,"x":4.5,"y":2.8},
{"p":"D","g":"D38","m":-1.0,"x":-1.9,"y":0.34},{"p":"D","g":"D38","m":-1.0,"x":0.17,"y":0.665},{"p":"D","g":"D38","m":-1.0,"x":2.23,"y":1.302},{"p":"D","g":"D38","m":-1.0,"x":4.3,"y":2.55},
{"p":"D","g":"D39","m":0.1,"x":-1.6,"y":0.6},{"p":"D","g":"D39","m":0.1,"x":-0.1,"y":0.849},{"p":"D","g":"D39","m":0.1,"x":1.4,"y":1.201},{"p":"D","g":"D39","m":0.1,"x":2.9,"y":1.7}
],
"E_rect": [{"x1": 33.5, "x2": 145.2}],
"E_pts": [
{"x":4.6,"y":0,"n":30},{"x":7.3,"y":0,"n":30},{"x":10.1,"y":0,"n":30},{"x":13.3,"y":0.527,"n":60},{"x":15.9,"y":0.568,"n":130},{"x":18.75,"y":0.464,"n":280},{"x":21.0,"y":0.633,"n":280},{"x":23.8,"y":0.581,"n":270},{"x":26.8,"y":0.621,"n":260},{"x":28.8,"y":0.669,"n":280},{"x":31.9,"y":0.701,"n":300},{"x":34.3,"y":0.594,"n":180},{"x":36.9,"y":0.607,"n":150},{"x":39.9,"y":0.62,"n":130},{"x":42.9,"y":0.613,"n":110},{"x":45.4,"y":0.63,"n":80},{"x":48.2,"y":0.453,"n":70},{"x":50.8,"y":0.445,"n":50},{"x":53.6,"y":0.323,"n":50},{"x":56.0,"y":0.423,"n":45},{"x":58.9,"y":0.30,"n":50},{"x":61.7,"y":0.516,"n":40},{"x":64.1,"y":0.189,"n":40},{"x":67.5,"y":0.181,"n":30},{"x":69.8,"y":0.10,"n":40},{"x":72.6,"y":0.22,"n":35},{"x":75.2,"y":0.299,"n":10},{"x":77.8,"y":0.186,"n":30},{"x":83.5,"y":0.181,"n":15},{"x":88.9,"y":0.248,"n":5},{"x":96.8,"y":0.142,"n":10},
{"x":80.8,"y":0,"n":30},{"x":85.9,"y":0,"n":20},{"x":90.3,"y":0,"n":10},{"x":94.2,"y":0,"n":10},{"x":98.6,"y":0,"n":10},{"x":102.0,"y":0,"n":10},{"x":104.8,"y":0,"n":5},{"x":107.7,"y":0,"n":5},{"x":113.0,"y":0,"n":5},{"x":114.5,"y":0,"n":5},{"x":120.6,"y":0,"n":3},{"x":133.3,"y":0,"n":3},{"x":138.7,"y":0,"n":3}
],
"E_fit": [
{"x":4.6,"y":0.304},{"x":11.7,"y":0.397},{"x":19.8,"y":0.49},{"x":25.8,"y":0.514},{"x":30.8,"y":0.516},{"x":35.9,"y":0.494},{"x":41.9,"y":0.442},{"x":48,"y":0.371},{"x":54,"y":0.294},{"x":60,"y":0.229},{"x":66.1,"y":0.177},{"x":72.2,"y":0.132},{"x":78.2,"y":0.1},{"x":84.3,"y":0.071},{"x":92.3,"y":0.045},{"x":102.4,"y":0.022},{"x":112.5,"y":0.012},{"x":122.6,"y":0.005},{"x":132.7,"y":0.003},{"x":139.7,"y":0.001}
],
"F_rect": [{"x1": 28.3, "x2": 194.5}],
"F_pts": [
{"x":7.6,"y":0.254,"n":220},{"x":9.0,"y":0.634,"n":280},{"x":11.7,"y":0.638,"n":300},{"x":14.3,"y":0.644,"n":320},{"x":17.0,"y":0.653,"n":340},{"x":19.5,"y":0.66,"n":300},{"x":21.8,"y":0.606,"n":280},{"x":25.6,"y":0.657,"n":200},{"x":29.1,"y":0.682,"n":180},{"x":32.6,"y":0.682,"n":160},{"x":36.6,"y":0.654,"n":130},{"x":40.6,"y":0.528,"n":100},{"x":44.4,"y":0.581,"n":90},{"x":48.4,"y":0.49,"n":70},{"x":51.9,"y":0.458,"n":60},{"x":55.9,"y":0.44,"n":60},{"x":59.7,"y":0.499,"n":50},{"x":63.1,"y":0.38,"n":40},{"x":66.9,"y":0.282,"n":40},{"x":70.1,"y":0.571,"n":15},{"x":74.4,"y":0.099,"n":35},{"x":78.2,"y":0.347,"n":30},{"x":81.6,"y":0.157,"n":30},{"x":85.9,"y":0.333,"n":15},{"x":89.4,"y":0.141,"n":30},{"x":93.4,"y":0,"n":20},{"x":97.5,"y":0.083,"n":25},{"x":100.7,"y":0.125,"n":25},{"x":104.4,"y":0,"n":20},{"x":107.6,"y":0,"n":20},{"x":111.4,"y":0.109,"n":20},{"x":115.7,"y":0.07,"n":20},
{"x":120.2,"y":0,"n":15},{"x":121.6,"y":0,"n":10},{"x":125.6,"y":0,"n":5},{"x":129.6,"y":0,"n":5},{"x":134.5,"y":0,"n":5},{"x":140.4,"y":0,"n":5},{"x":151.1,"y":0,"n":3},{"x":156.4,"y":0,"n":3},{"x":161.3,"y":0,"n":3},{"x":165.8,"y":0,"n":3},{"x":170.4,"y":0,"n":3},{"x":188.6,"y":0,"n":3},{"x":192.6,"y":0,"n":3}
],
"F_fit": [
{"x":7.6,"y":0.399},{"x":13,"y":0.48},{"x":18.4,"y":0.525},{"x":25.1,"y":0.54},{"x":29.1,"y":0.537},{"x":35.8,"y":0.512},{"x":43.8,"y":0.462},{"x":51.9,"y":0.405},{"x":59.9,"y":0.348},{"x":68,"y":0.298},{"x":76,"y":0.262},{"x":84,"y":0.222},{"x":90.8,"y":0.17},{"x":97.5,"y":0.115},{"x":104.2,"y":0.062},{"x":110.9,"y":0.022},{"x":118.9,"y":0.003},{"x":129.6,"y":0},{"x":194,"y":0}
],
"G_pts": [
{"x":7.5,"y":0,"n":15},{"x":12.7,"y":0,"n":15},{"x":16.0,"y":0.203,"n":60},{"x":19.8,"y":0.41,"n":70},{"x":23.3,"y":0.549,"n":120},{"x":27.4,"y":0.684,"n":120},{"x":30.7,"y":0.756,"n":130},{"x":34.5,"y":0.719,"n":110},{"x":38.0,"y":0.623,"n":130},{"x":41.8,"y":0.521,"n":120},{"x":45.6,"y":0.429,"n":110},{"x":49.2,"y":0.396,"n":120},{"x":52.7,"y":0.494,"n":130},{"x":56.5,"y":0.573,"n":110},{"x":60.1,"y":0.604,"n":100},{"x":63.9,"y":0.549,"n":80},{"x":67.4,"y":0.577,"n":80},{"x":71.0,"y":0.586,"n":75},{"x":74.8,"y":0.651,"n":70},{"x":78.6,"y":0.651,"n":60},{"x":82.4,"y":0.586,"n":50},{"x":86.2,"y":0.597,"n":40},{"x":89.8,"y":0.675,"n":40},{"x":93.8,"y":0.586,"n":15},{"x":97.1,"y":0.749,"n":15},{"x":100.9,"y":0.558,"n":30},{"x":104.7,"y":0.453,"n":15},{"x":108.6,"y":0.442,"n":8},{"x":111.0,"y":0.331,"n":10},{"x":115.9,"y":0.331,"n":10},{"x":119.4,"y":0.749,"n":5},{"x":123.5,"y":0.397,"n":5},{"x":125.4,"y":1,"n":5},{"x":129.2,"y":1,"n":5},{"x":135.0,"y":1,"n":5},{"x":138.0,"y":1,"n":5},{"x":145.6,"y":1,"n":3},{"x":149.1,"y":0,"n":3},{"x":191.9,"y":1,"n":3}
],
"G_fit": [{"x":7.5,"y":0.423},{"x":191.9,"y":0.543}]
},
"resolve": {"scale": {"size": "independent"}, "legend": {"size": "independent"}},
"spacing": 104,
"hconcat": [
{
"title": {"text": "Predicted Growth (mm)", "orient": "left", "anchor": "middle", "fontSize": 28, "fontWeight": "normal", "color": "#000000", "offset": 2, "dx": 13},
"vconcat": [
{
"title": {"text": "Winter Precipitation Anomaly", "orient": "bottom", "anchor": "middle", "fontSize": 28, "fontWeight": "normal", "color": "#000000", "offset": 3, "dx": 8},
"spacing": 11.6,
"vconcat": [
{"spacing": 11.6, "bounds": "flush", "hconcat": [
{"data": {"name": "panels"}, "transform": [{"filter": "datum.p == 'A'"}], "width": 348.4, "height": 322,
 "layer": [
  {"transform": [{"filter": "datum.lab"}], "mark": {"type": "rect", "color": "#D6D6D6"}, "encoding": {"y": {"datum": 3.155, "type": "quantitative", "title": null}, "y2": {"datum": 3.547}}},
  {"transform": [{"filter": "datum.lab"}], "mark": {"type": "text", "fontSize": 18, "color": "#1A1A1A", "baseline": "middle", "align": "center"}, "encoding": {"text": {"field": "lab"}, "y": {"datum": 3.351, "type": "quantitative", "title": null}}},
  {"transform": [{"filter": "datum.g"}], "mark": {"type": "line", "strokeWidth": 2.1, "opacity": 0.72, "interpolate": "monotone", "clip": true},
   "encoding": {
    "x": {"field": "x", "type": "quantitative", "title": null, "scale": {"domain": [-3.346, 7.817], "nice": false, "zero": false}, "axis": null},
    "y": {"field": "y", "type": "quantitative", "title": null, "scale": {"domain": [-0.154, 3.547], "nice": false, "zero": false},
     "axis": {"values": [0, 1, 2, 3], "format": ".0f", "labelFontSize": 23, "labelColor": "#4D4D4D", "tickColor": "#333333", "tickSize": 5, "tickWidth": 1.1, "domainColor": "#000000", "domainWidth": 1.2, "labelPadding": 6}},
    "color": {"field": "m", "type": "quantitative", "scale": {"domain": [-2, -1, 0, 1, 2, 3, 4.42], "range": ["#DC6E5F", "#EEA48D", "#F8D2BC", "#D4B8BE", "#A49DB8", "#7A80AE", "#3A5CA8"]},
     "legend": {"title": "MAP", "orient": "none", "legendX": 741.5, "legendY": 240.7, "values": [0, 2, 4], "gradientLength": 178, "gradientThickness": 35, "gradientStrokeWidth": 0, "titleFontSize": 23, "titleFontWeight": "normal", "titleColor": "#000000", "labelFontSize": 22, "labelColor": "#1A1A1A", "titlePadding": 10, "labelOffset": 8}},
    "detail": {"field": "g"}}},
  {"transform": [{"filter": "datum.lab"}], "mark": {"type": "text", "fontSize": 30, "color": "#000000", "baseline": "middle", "align": "center"},
   "encoding": {"text": {"field": "L"}, "x": {"field": "lx", "type": "quantitative", "title": null, "axis": null}, "y": {"field": "ly", "type": "quantitative", "title": null}}}
 ]},
{"data": {"name": "panels"}, "transform": [{"filter": "datum.p == 'B'"}], "width": 348.4, "height": 322,
 "layer": [
  {"transform": [{"filter": "datum.lab"}], "mark": {"type": "rect", "color": "#D6D6D6"}, "encoding": {"y": {"datum": 3.155, "type": "quantitative", "title": null, "axis": null}, "y2": {"datum": 3.547}}},
  {"transform": [{"filter": "datum.lab"}], "mark": {"type": "text", "fontSize": 18, "color": "#1A1A1A", "baseline": "middle", "align": "center"}, "encoding": {"text": {"field": "lab"}, "y": {"datum": 3.351, "type": "quantitative", "title": null, "axis": null}}},
  {"transform": [{"filter": "datum.g"}], "mark": {"type": "line", "strokeWidth": 2.1, "opacity": 0.72, "interpolate": "monotone", "clip": true},
   "encoding": {
    "x": {"field": "x", "type": "quantitative", "title": null, "scale": {"domain": [-3.346, 7.817], "nice": false, "zero": false}, "axis": null},
    "y": {"field": "y", "type": "quantitative", "title": null, "scale": {"domain": [-0.154, 3.547], "nice": false, "zero": false}, "axis": null},
    "color": {"field": "m", "type": "quantitative", "scale": {"domain": [-2, -1, 0, 1, 2, 3, 4.42], "range": ["#DC6E5F", "#EEA48D", "#F8D2BC", "#D4B8BE", "#A49DB8", "#7A80AE", "#3A5CA8"]},
     "legend": {"title": "MAP", "orient": "none", "legendX": 741.5, "legendY": 240.7, "values": [0, 2, 4], "gradientLength": 178, "gradientThickness": 35, "gradientStrokeWidth": 0, "titleFontSize": 23, "titleFontWeight": "normal", "titleColor": "#000000", "labelFontSize": 22, "labelColor": "#1A1A1A", "titlePadding": 10, "labelOffset": 8}},
    "detail": {"field": "g"}}},
  {"transform": [{"filter": "datum.lab"}], "mark": {"type": "text", "fontSize": 30, "color": "#000000", "baseline": "middle", "align": "center"},
   "encoding": {"text": {"field": "L"}, "x": {"field": "lx", "type": "quantitative", "title": null, "axis": null}, "y": {"field": "ly", "type": "quantitative", "title": null, "axis": null}}}
 ]}
]},
{"spacing": 11.6, "bounds": "flush", "hconcat": [
{"data": {"name": "panels"}, "transform": [{"filter": "datum.p == 'C'"}], "width": 348.4, "height": 322,
 "layer": [
  {"transform": [{"filter": "datum.lab"}], "mark": {"type": "rect", "color": "#D6D6D6"}, "encoding": {"y": {"datum": 3.155, "type": "quantitative", "title": null}, "y2": {"datum": 3.547}}},
  {"transform": [{"filter": "datum.lab"}], "mark": {"type": "text", "fontSize": 18, "color": "#1A1A1A", "baseline": "middle", "align": "center"}, "encoding": {"text": {"field": "lab"}, "y": {"datum": 3.351, "type": "quantitative", "title": null}}},
  {"transform": [{"filter": "datum.g"}], "mark": {"type": "line", "strokeWidth": 2.1, "opacity": 0.72, "interpolate": "monotone", "clip": true},
   "encoding": {
    "x": {"field": "x", "type": "quantitative", "title": null, "scale": {"domain": [-3.346, 7.817], "nice": false, "zero": false},
     "axis": {"values": [-2.5, 0, 2.5, 5, 7.5], "format": ".1f", "labelExpr": "replace(datum.label, '\u2212', '-')", "labelFontSize": 23, "labelColor": "#4D4D4D", "tickColor": "#333333", "tickSize": 5, "tickWidth": 1.1, "domainColor": "#000000", "domainWidth": 1.2, "labelPadding": 3}},
    "y": {"field": "y", "type": "quantitative", "title": null, "scale": {"domain": [-0.154, 3.547], "nice": false, "zero": false},
     "axis": {"values": [0, 1, 2, 3], "format": ".0f", "labelFontSize": 23, "labelColor": "#4D4D4D", "tickColor": "#333333", "tickSize": 5, "tickWidth": 1.1, "domainColor": "#000000", "domainWidth": 1.2, "labelPadding": 6}},
    "color": {"field": "m", "type": "quantitative", "scale": {"domain": [-2, -1, 0, 1, 2, 3, 4.42], "range": ["#DC6E5F", "#EEA48D", "#F8D2BC", "#D4B8BE", "#A49DB8", "#7A80AE", "#3A5CA8"]},
     "legend": {"title": "MAP", "orient": "none", "legendX": 741.5, "legendY": 240.7, "values": [0, 2, 4], "gradientLength": 178, "gradientThickness": 35, "gradientStrokeWidth": 0, "titleFontSize": 23, "titleFontWeight": "normal", "titleColor": "#000000", "labelFontSize": 22, "labelColor": "#1A1A1A", "titlePadding": 10, "labelOffset": 8}},
    "detail": {"field": "g"}}},
  {"transform": [{"filter": "datum.lab"}], "mark": {"type": "text", "fontSize": 30, "color": "#000000", "baseline": "middle", "align": "center"},
   "encoding": {"text": {"field": "L"}, "x": {"field": "lx", "type": "quantitative", "title": null}, "y": {"field": "ly", "type": "quantitative", "title": null}}}
 ]},
{"data": {"name": "panels"}, "transform": [{"filter": "datum.p == 'D'"}], "width": 348.4, "height": 322,
 "layer": [
  {"transform": [{"filter": "datum.lab"}], "mark": {"type": "rect", "color": "#D6D6D6"}, "encoding": {"y": {"datum": 3.155, "type": "quantitative", "title": null, "axis": null}, "y2": {"datum": 3.547}}},
  {"transform": [{"filter": "datum.lab"}], "mark": {"type": "text", "fontSize": 18, "color": "#1A1A1A", "baseline": "middle", "align": "center"}, "encoding": {"text": {"field": "lab"}, "y": {"datum": 3.351, "type": "quantitative", "title": null, "axis": null}}},
  {"transform": [{"filter": "datum.g"}], "mark": {"type": "line", "strokeWidth": 2.1, "opacity": 0.72, "interpolate": "monotone", "clip": true},
   "encoding": {
    "x": {"field": "x", "type": "quantitative", "title": null, "scale": {"domain": [-3.346, 7.817], "nice": false, "zero": false},
     "axis": {"values": [-2.5, 0, 2.5, 5, 7.5], "format": ".1f", "labelExpr": "replace(datum.label, '\u2212', '-')", "labelFontSize": 23, "labelColor": "#4D4D4D", "tickColor": "#333333", "tickSize": 5, "tickWidth": 1.1, "domainColor": "#000000", "domainWidth": 1.2, "labelPadding": 3}},
    "y": {"field": "y", "type": "quantitative", "title": null, "scale": {"domain": [-0.154, 3.547], "nice": false, "zero": false}, "axis": null},
    "color": {"field": "m", "type": "quantitative", "scale": {"domain": [-2, -1, 0, 1, 2, 3, 4.42], "range": ["#DC6E5F", "#EEA48D", "#F8D2BC", "#D4B8BE", "#A49DB8", "#7A80AE", "#3A5CA8"]},
     "legend": {"title": "MAP", "orient": "none", "legendX": 741.5, "legendY": 240.7, "values": [0, 2, 4], "gradientLength": 178, "gradientThickness": 35, "gradientStrokeWidth": 0, "titleFontSize": 23, "titleFontWeight": "normal", "titleColor": "#000000", "labelFontSize": 22, "labelColor": "#1A1A1A", "titlePadding": 10, "labelOffset": 8}},
    "detail": {"field": "g"}}},
  {"transform": [{"filter": "datum.lab"}], "mark": {"type": "text", "fontSize": 30, "color": "#000000", "baseline": "middle", "align": "center"},
   "encoding": {"text": {"field": "L"}, "x": {"field": "lx", "type": "quantitative", "title": null}, "y": {"field": "ly", "type": "quantitative", "title": null, "axis": null}}}
 ]}
]}
]
}
]
},
{
"resolve": {"scale": {"size": "independent"}, "legend": {"size": "independent"}},
"spacing": 15.6,
"vconcat": [
{
"resolve": {"scale": {"size": "independent"}, "legend": {"size": "independent"}},
"spacing": 23.3,
"vconcat": [
{
"width": 255, "height": 202,
"layer": [
{"data": {"name": "E_rect"}, "mark": {"type": "rect", "color": "#CBCBCB"},
 "encoding": {"x": {"field": "x1", "type": "quantitative", "title": "Mean Annual Precipitation (mm)",
   "scale": {"domain": [-2.4, 151.8], "nice": false, "zero": false},
   "axis": {"values": [50, 100], "labelFontSize": 13, "labelColor": "#4D4D4D", "tickColor": "#666666", "tickSize": 3, "domainColor": "#666666", "labelPadding": 2, "titleFontSize": 12, "titleFontWeight": "normal", "titleColor": "#000000", "titlePadding": 3}},
  "x2": {"field": "x2"}}},
{"data": {"name": "E_pts"}, "mark": {"type": "circle", "color": "#000000", "opacity": 1},
 "encoding": {"x": {"field": "x", "type": "quantitative"},
  "y": {"field": "y", "type": "quantitative", "title": "Probability of occurrence",
   "scale": {"domain": [-0.034, 0.7505], "nice": false, "zero": false},
   "axis": {"values": [0, 0.2, 0.4, 0.6], "format": ".1f", "labelFontSize": 13, "labelColor": "#4D4D4D", "tickColor": "#666666", "tickSize": 3, "domainColor": "#666666", "labelPadding": 2, "titleFontSize": 12, "titleFontWeight": "normal", "titleColor": "#000000", "titlePadding": 4}},
  "size": {"field": "n", "type": "quantitative", "scale": {"type": "pow", "exponent": 0.75, "domain": [0, 300], "range": [3, 68]},
   "legend": {"title": "Count", "orient": "none", "legendX": 269, "legendY": 66, "values": [0, 100, 200, 300], "titleFontSize": 13, "titleFontWeight": "normal", "titleColor": "#000000", "labelFontSize": 9, "labelColor": "#1A1A1A", "symbolFillColor": "#000000", "symbolStrokeWidth": 0, "symbolType": "circle", "rowPadding": 4.5, "titlePadding": 6}}}},
{"data": {"name": "E_fit"}, "mark": {"type": "line", "color": "#000000", "strokeWidth": 1.8, "interpolate": "monotone"},
 "encoding": {"x": {"field": "x", "type": "quantitative"}, "y": {"field": "y", "type": "quantitative"}}},
{"data": {"values": [{"L": "E"}]}, "mark": {"type": "text", "fontSize": 30, "color": "#000000", "baseline": "middle", "align": "center"},
 "encoding": {"text": {"field": "L"}, "x": {"datum": 136.7, "type": "quantitative"}, "y": {"datum": 0.646, "type": "quantitative"}}}
]
},
{
"width": 255, "height": 198.4,
"layer": [
{"data": {"name": "F_rect"}, "mark": {"type": "rect", "color": "#CBCBCB"},
 "encoding": {"x": {"field": "x1", "type": "quantitative", "title": "Winter Precipitation (mm)",
   "scale": {"domain": [-1.7, 203.3], "nice": false, "zero": false},
   "axis": {"values": [50, 100, 150], "labelFontSize": 13, "labelColor": "#4D4D4D", "tickColor": "#666666", "tickSize": 3, "domainColor": "#666666", "labelPadding": 2, "titleFontSize": 12, "titleFontWeight": "normal", "titleColor": "#000000", "titlePadding": 3}},
  "x2": {"field": "x2"}}},
{"data": {"name": "F_pts"}, "mark": {"type": "circle", "color": "#000000", "opacity": 1},
 "encoding": {"x": {"field": "x", "type": "quantitative"},
  "y": {"field": "y", "type": "quantitative", "title": "Probability of occurrence",
   "scale": {"domain": [-0.0355, 0.713], "nice": false, "zero": false},
   "axis": {"values": [0, 0.2, 0.4, 0.6], "format": ".1f", "labelFontSize": 13, "labelColor": "#4D4D4D", "tickColor": "#666666", "tickSize": 3, "domainColor": "#666666", "labelPadding": 2, "titleFontSize": 12, "titleFontWeight": "normal", "titleColor": "#000000", "titlePadding": 4}},
  "size": {"field": "n", "type": "quantitative", "scale": {"type": "pow", "exponent": 0.75, "domain": [0, 400], "range": [3, 78]},
   "legend": {"title": "Count", "orient": "none", "legendX": 269, "legendY": 55, "values": [0, 100, 200, 300, 400], "titleFontSize": 13, "titleFontWeight": "normal", "titleColor": "#000000", "labelFontSize": 9, "labelColor": "#1A1A1A", "symbolFillColor": "#000000", "symbolStrokeWidth": 0, "symbolType": "circle", "rowPadding": 4, "titlePadding": 6}}}},
{"data": {"name": "F_fit"}, "mark": {"type": "line", "color": "#000000", "strokeWidth": 1.8, "interpolate": "monotone"},
 "encoding": {"x": {"field": "x", "type": "quantitative"}, "y": {"field": "y", "type": "quantitative"}}},
{"data": {"values": [{"L": "F"}]}, "mark": {"type": "text", "fontSize": 30, "color": "#000000", "baseline": "middle", "align": "center"},
 "encoding": {"text": {"field": "L"}, "x": {"datum": 181.9, "type": "quantitative"}, "y": {"datum": 0.634, "type": "quantitative"}}}
]
}
]
},
{
"width": 249, "height": 197.4,
"layer": [
{"data": {"name": "G_pts"}, "mark": {"type": "circle", "color": "#000000", "opacity": 1},
 "encoding": {"x": {"field": "x", "type": "quantitative", "title": "Monsoon Precipitation (mm)",
   "scale": {"domain": [-2.1, 201.3], "nice": false, "zero": false},
   "axis": {"values": [50, 100, 150], "labelFontSize": 13, "labelColor": "#4D4D4D", "tickColor": "#666666", "tickSize": 3, "domainColor": "#666666", "labelPadding": 2, "titleFontSize": 12, "titleFontWeight": "normal", "titleColor": "#000000", "titlePadding": 3}},
  "y": {"field": "y", "type": "quantitative", "title": "Probability of occurrence",
   "scale": {"domain": [-0.0466, 1.048], "nice": false, "zero": false},
   "axis": {"values": [0, 0.25, 0.5, 0.75, 1], "format": ".2f", "labelFontSize": 13, "labelColor": "#4D4D4D", "tickColor": "#666666", "tickSize": 3, "domainColor": "#666666", "labelPadding": 2, "titleFontSize": 12, "titleFontWeight": "normal", "titleColor": "#000000", "titlePadding": 4}},
  "size": {"field": "n", "type": "quantitative", "scale": {"type": "pow", "exponent": 0.75, "domain": [0, 150], "range": [3, 90]},
   "legend": {"title": "Count", "orient": "none", "legendX": 263, "legendY": 61, "values": [0, 50, 100, 150], "titleFontSize": 13, "titleFontWeight": "normal", "titleColor": "#000000", "labelFontSize": 9, "labelColor": "#1A1A1A", "symbolFillColor": "#000000", "symbolStrokeWidth": 0, "symbolType": "circle", "rowPadding": 4, "titlePadding": 6}}}},
{"data": {"name": "G_fit"}, "mark": {"type": "line", "color": "#000000", "strokeWidth": 1.8},
 "encoding": {"x": {"field": "x", "type": "quantitative"}, "y": {"field": "y", "type": "quantitative"}}},
{"data": {"values": [{"L": "G"}]}, "mark": {"type": "text", "fontSize": 30, "color": "#000000", "baseline": "middle", "align": "center"},
 "encoding": {"text": {"field": "L"}, "x": {"datum": 182.6, "type": "quantitative"}, "y": {"datum": 0.9, "type": "quantitative"}}}
]
}
]
}
]
}
